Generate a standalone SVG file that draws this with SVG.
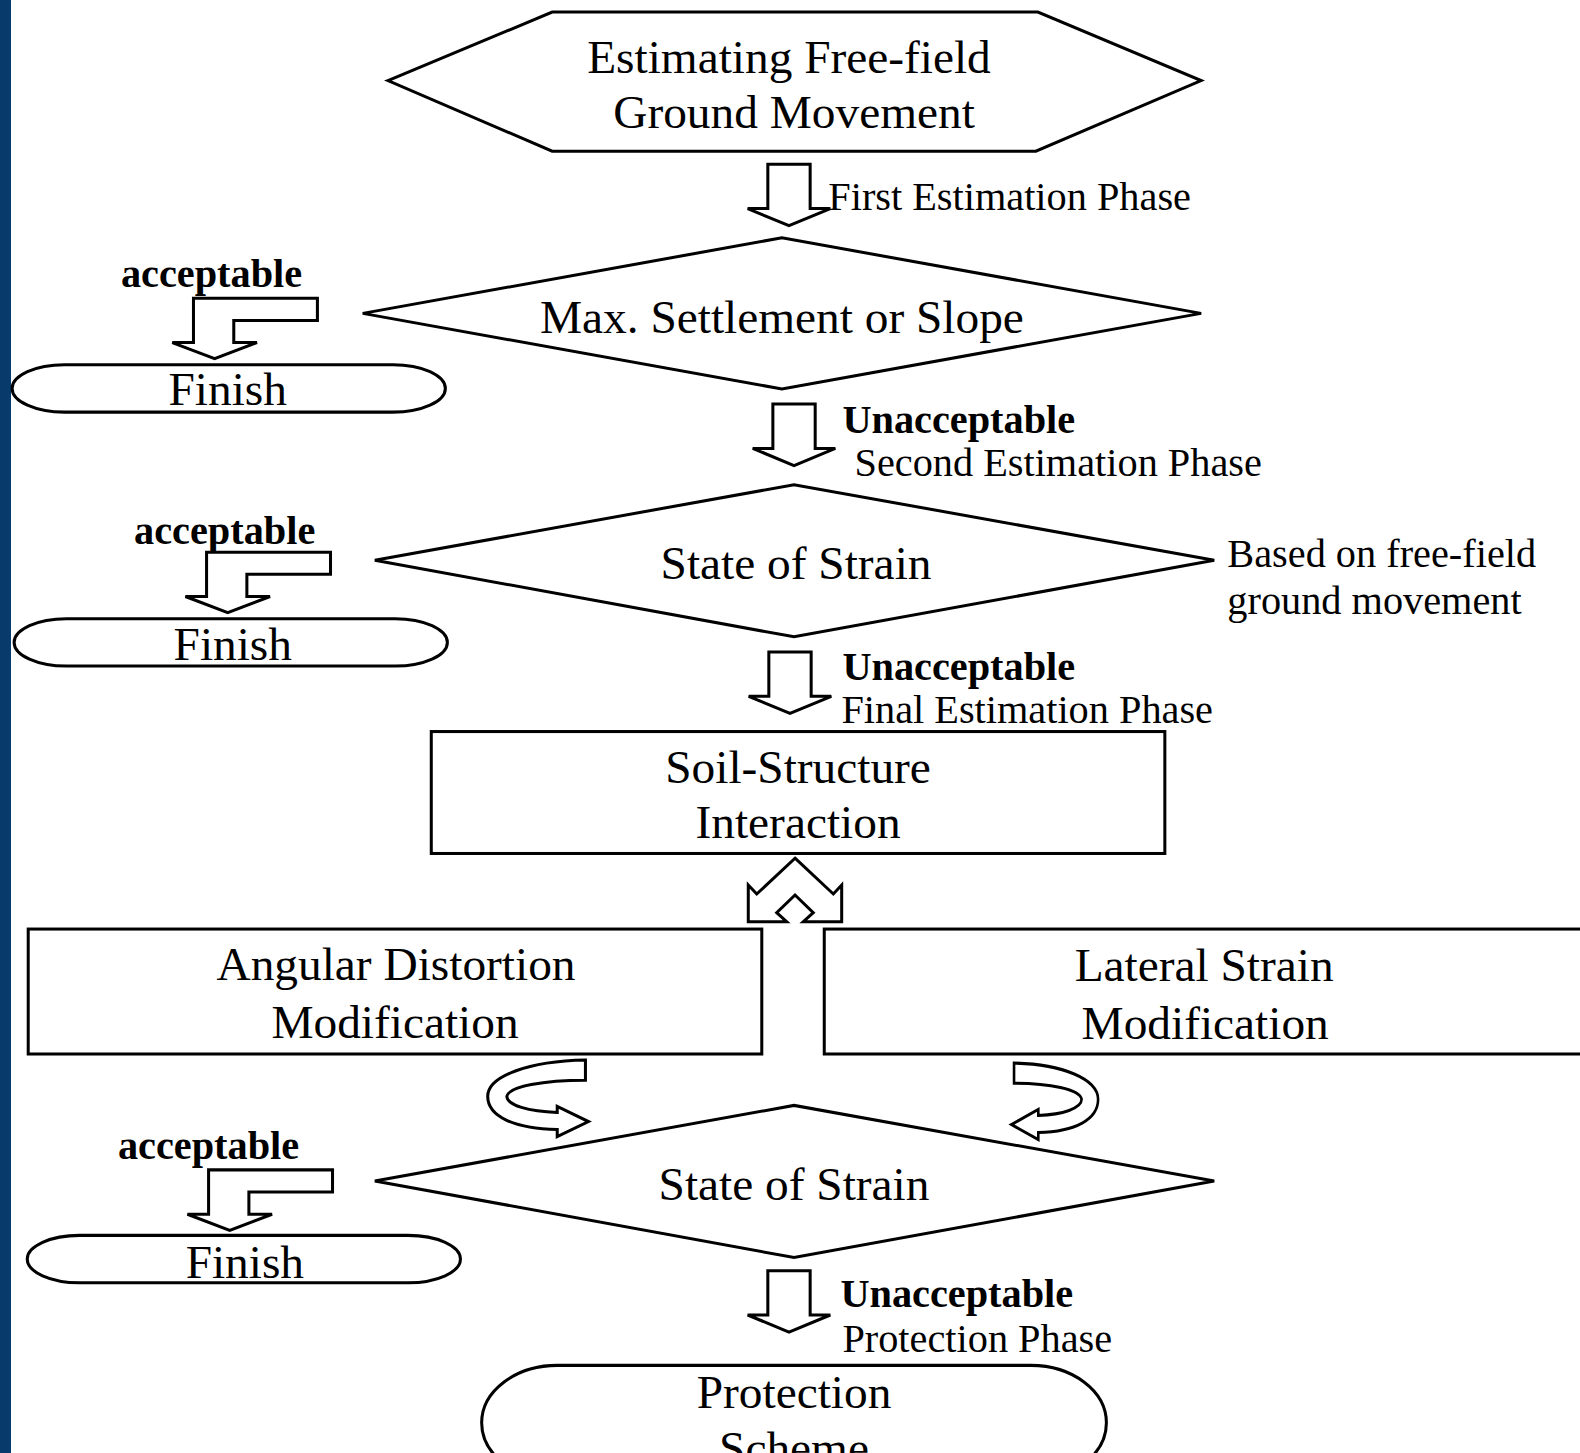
<svg xmlns="http://www.w3.org/2000/svg" width="1580" height="1453" viewBox="0 0 1580 1453">
<style>
.shape{fill:#fff;stroke:#000;stroke-width:3;stroke-linejoin:miter}
.arr{fill:#fff;stroke:#000;stroke-width:3;stroke-linejoin:miter}
.node{font-family:"Liberation Serif","Times New Roman",serif;font-size:47px;fill:#000;text-anchor:middle}
.lbl{font-family:"Liberation Serif","Times New Roman",serif;font-size:40px;fill:#000}
.bold{font-weight:bold}
</style>
<defs>
<path id="down" d="M-21,-61 H21 V-17 H41 L0,0 L-41,-17 H-21 Z"/>
<path id="accArrow" d="M-21,-60 H102 V-38 H19 V-16 H42 L0,0 L-42,-16 H-21 Z"/>
<path id="finish" d="M52,0 H378 A52,23.5 0 0 1 378,47 H52 A52,23.5 0 0 1 52,0 Z"/>
<path id="loop" d="M581,1052 L581,1072 C540,1072 505,1078 503,1088 C503,1097 525,1103 553,1104 L553,1098 L584,1113 L553,1128 L553,1121 C510,1120 484,1108 484,1088 C484,1068 525,1053 581,1052 Z"/>
</defs>
<rect width="1580" height="1453" fill="#fff"/>
<rect x="0" y="0" width="11" height="1453" fill="#083a6c"/>
<g transform="scale(1.00765)">
  <g id="n-estimate">
    <polygon class="shape" points="385,80 548,12 1030,12 1192,80 1028,150 548,150"/>
    <text class="node" x="783" y="72">Estimating Free-field</text>
    <text class="node" x="788" y="127">Ground Movement</text>
  </g>
  <g id="n-maxsettle">
    <polygon class="shape" points="360,311 776,236 1192,311 776,386"/>
    <text class="node" x="776" y="330">Max. Settlement or Slope</text>
  </g>
  <g id="n-finish1">
    <use href="#finish" class="shape" x="12" y="362"/>
    <text class="node" x="226" y="402">Finish</text>
  </g>
  <g id="n-strain1">
    <polygon class="shape" points="372,556 788,481 1205,556 788,632"/>
    <text class="node" x="790" y="575">State of Strain</text>
  </g>
  <g id="n-finish2">
    <use href="#finish" class="shape" x="14" y="614"/>
    <text class="node" x="231" y="655">Finish</text>
  </g>
  <g id="n-ssi">
    <rect class="shape" x="428" y="726" width="728" height="121"/>
    <text class="node" x="792" y="777">Soil-Structure</text>
    <text class="node" x="792" y="832">Interaction</text>
  </g>
  <g id="n-angular">
    <rect class="shape" x="28" y="922" width="728" height="124"/>
    <text class="node" x="393" y="973">Angular Distortion</text>
    <text class="node" x="392" y="1030">Modification</text>
  </g>
  <g id="n-lateral">
    <rect class="shape" x="818" y="922" width="800" height="124"/>
    <text class="node" x="1195" y="974">Lateral Strain</text>
    <text class="node" x="1196" y="1031">Modification</text>
  </g>
  <g id="n-strain2">
    <polygon class="shape" points="372,1172 788,1097 1205,1172 788,1248"/>
    <text class="node" x="788" y="1191">State of Strain</text>
  </g>
  <g id="n-finish3">
    <use href="#finish" class="shape" x="27" y="1226"/>
    <text class="node" x="243" y="1268">Finish</text>
  </g>
  <g id="n-protection">
    <rect class="shape" x="478" y="1355" width="620" height="114" rx="75" ry="57"/>
    <text class="node" x="788" y="1397">Protection</text>
    <text class="node" x="788" y="1453">Scheme</text>
  </g>
  <g id="connectors">
    <use href="#down" class="arr" x="783" y="224"/>
    <use href="#down" class="arr" x="788" y="462"/>
    <use href="#down" class="arr" x="784" y="708"/>
    <use href="#down" class="arr" x="783" y="1322"/>
    <use href="#accArrow" class="arr" x="213" y="356"/>
    <use href="#accArrow" class="arr" x="226" y="608"/>
    <use href="#accArrow" class="arr" x="228" y="1221"/>
    <polygon class="arr" points="789,851.7 827,887.2 835.3,878.3 835.3,914.7 797.2,914.7 807.1,905.7 789,888.2 770.8,905.7 780.7,914.7 742.6,914.7 742.6,878.3 751,887.2"/>
    <use href="#loop" class="arr"/>
    <use href="#loop" class="arr" transform="translate(1506,3) scale(-0.86,1)"/>
  </g>
  <g id="labels">
    <text class="lbl" x="822" y="208">First Estimation Phase</text>
    <text class="lbl bold" x="120" y="285">acceptable</text>
    <text class="lbl bold" x="836" y="430">Unacceptable</text>
    <text class="lbl" x="848" y="472">Second Estimation Phase</text>
    <text class="lbl bold" x="133" y="540">acceptable</text>
    <text class="lbl" x="1218" y="563">Based on free-field</text>
    <text class="lbl" x="1218" y="609">ground movement</text>
    <text class="lbl bold" x="836" y="675">Unacceptable</text>
    <text class="lbl" x="835" y="718">Final Estimation Phase</text>
    <text class="lbl bold" x="117" y="1150">acceptable</text>
    <text class="lbl bold" x="834" y="1297">Unacceptable</text>
    <text class="lbl" x="836" y="1342">Protection Phase</text>
  </g>
</g>
</svg>
